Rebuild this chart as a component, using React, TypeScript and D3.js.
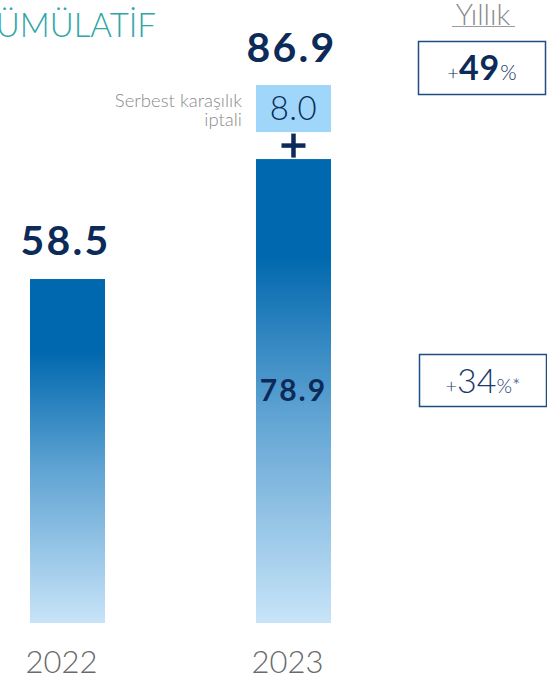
import React from "react";
import * as d3 from "d3";

const categories = ["2022", "2023"];
const baseValues = [58.5, 78.9];
const addOnValues = [0, 8.0];
const totalLabels = ["58.5", "86.9"];
const baseLabels = ["", "78.9"];
const addOnLabel = "Serbest karaşılık";
const addOnLabel2 = "iptali";
const title = "KÜMÜLATİF";
const sideTitle = "Yıllık";
const growthMain = "49";
const growthAlt = "34";

const W = 547;
const H = 680;
const FONT = "Lato, 'Open Sans', sans-serif";
const NAVY = "#0c2b58";

export default function App() {
  const x = d3
    .scaleBand<string>()
    .domain(categories)
    .range([30, 331])
    .paddingInner(0.668)
    .paddingOuter(0);
  const y = d3.scaleLinear().domain([0, 100]).range([623, 35]);
  const bw = x.bandwidth();
  const gap = 27;

  return (
    <svg
      width={W}
      height={H}
      style={{ position: "absolute", left: 0, top: 0, background: "#fff" }}
      fontFamily={FONT}
    >
      <defs>
        <linearGradient id="barGrad" x1="0" y1="0" x2="0" y2="1">
          <stop offset="0" stopColor="#0068ae" />
          <stop offset="0.21" stopColor="#0068ae" />
          <stop offset="0.55" stopColor="#5fa3d3" />
          <stop offset="1" stopColor="#c8e4f8" />
        </linearGradient>
      </defs>

      {/* Title */}
      <text x={156} y={37} textAnchor="end" fontSize={33} fontWeight={300} fill="#2fa6a6">
        {title}
      </text>

      {/* Side title */}
      <text x={483} y={25} textAnchor="middle" fontSize={29} fontWeight={300} fill="#8a8a8a">
        {sideTitle}
      </text>
      <line x1={452} x2={515} y1={26.5} y2={26.5} stroke="#9a9a9a" strokeWidth={1} />

      {/* Bars */}
      {categories.map((c, i) => {
        const x0 = x(c)!;
        const cx = x0 + bw / 2;
        const top = y(baseValues[i]);
        const addOn = addOnValues[i];
        const total = baseValues[i] + addOn;
        const addTop = y(total) - gap;
        const addBottom = y(baseValues[i]) - gap;
        const labelY = addOn > 0 ? addTop - 23 : top - 24;
        const plusY = (addBottom + top) / 2;
        return (
          <g key={c}>
            <rect x={x0} y={top} width={bw} height={y(0) - top} fill="url(#barGrad)" />
            {addOn > 0 && (
              <g>
                <rect x={x0} y={addTop} width={bw} height={addBottom - addTop} fill="#9fd6fa" />
                <text
                  x={cx}
                  y={addBottom - 12}
                  textAnchor="middle"
                  fontSize={33}
                  fontWeight={300}
                  fill={NAVY}
                  letterSpacing={0.5}
                >
                  {addOn.toFixed(1)}
                </text>
                <line x1={cx - 12} x2={cx + 12} y1={plusY} y2={plusY} stroke={NAVY} strokeWidth={4.5} />
                <line x1={cx} x2={cx} y1={plusY - 12} y2={plusY + 12} stroke={NAVY} strokeWidth={4.5} />
                <text x={x0 - 14} y={addTop + 22} textAnchor="end" fontSize={18.5} fontWeight={300} fill="#8a8a8a">
                  {addOnLabel}
                </text>
                <text x={x0 - 14} y={addTop + 41} textAnchor="end" fontSize={18.5} fontWeight={300} fill="#8a8a8a">
                  {addOnLabel2}
                </text>
              </g>
            )}
            <text
              x={cx - 2}
              y={labelY}
              textAnchor="middle"
              fontSize={41}
              fontWeight={700}
              fill={NAVY}
              letterSpacing={2.2}
            >
              {totalLabels[i]}
            </text>
            {baseLabels[i] && (
              <text
                x={cx}
                y={401}
                textAnchor="middle"
                fontSize={30}
                fontWeight={700}
                fill={NAVY}
                letterSpacing={2}
              >
                {baseLabels[i]}
              </text>
            )}
            <text x={cx - 6} y={673} textAnchor="middle" fontSize={31} fontWeight={300} fill="#6a6a6a">
              {c}
            </text>
          </g>
        );
      })}

      {/* Growth boxes */}
      <rect x={418.5} y={41.5} width={127} height={53} fill="none" stroke="#1f4d82" strokeWidth={1.5} />
      <text x={482} y={80} textAnchor="middle" fill={NAVY}>
        <tspan fontSize={20} fontWeight={300}>+</tspan>
        <tspan fontSize={34} fontWeight={700} letterSpacing={1}>{growthMain}</tspan>
        <tspan fontSize={21} fontWeight={300}>%</tspan>
      </text>

      <rect x={419.5} y={354.5} width={127} height={52} fill="none" stroke="#1f4d82" strokeWidth={1.5} />
      <text x={483} y={393} textAnchor="middle" fill="#1b3a6b">
        <tspan fontSize={20} fontWeight={300}>+</tspan>
        <tspan fontSize={34} fontWeight={300}>{growthAlt}</tspan>
        <tspan fontSize={20} fontWeight={300}>%*</tspan>
      </text>
    </svg>
  );
}
